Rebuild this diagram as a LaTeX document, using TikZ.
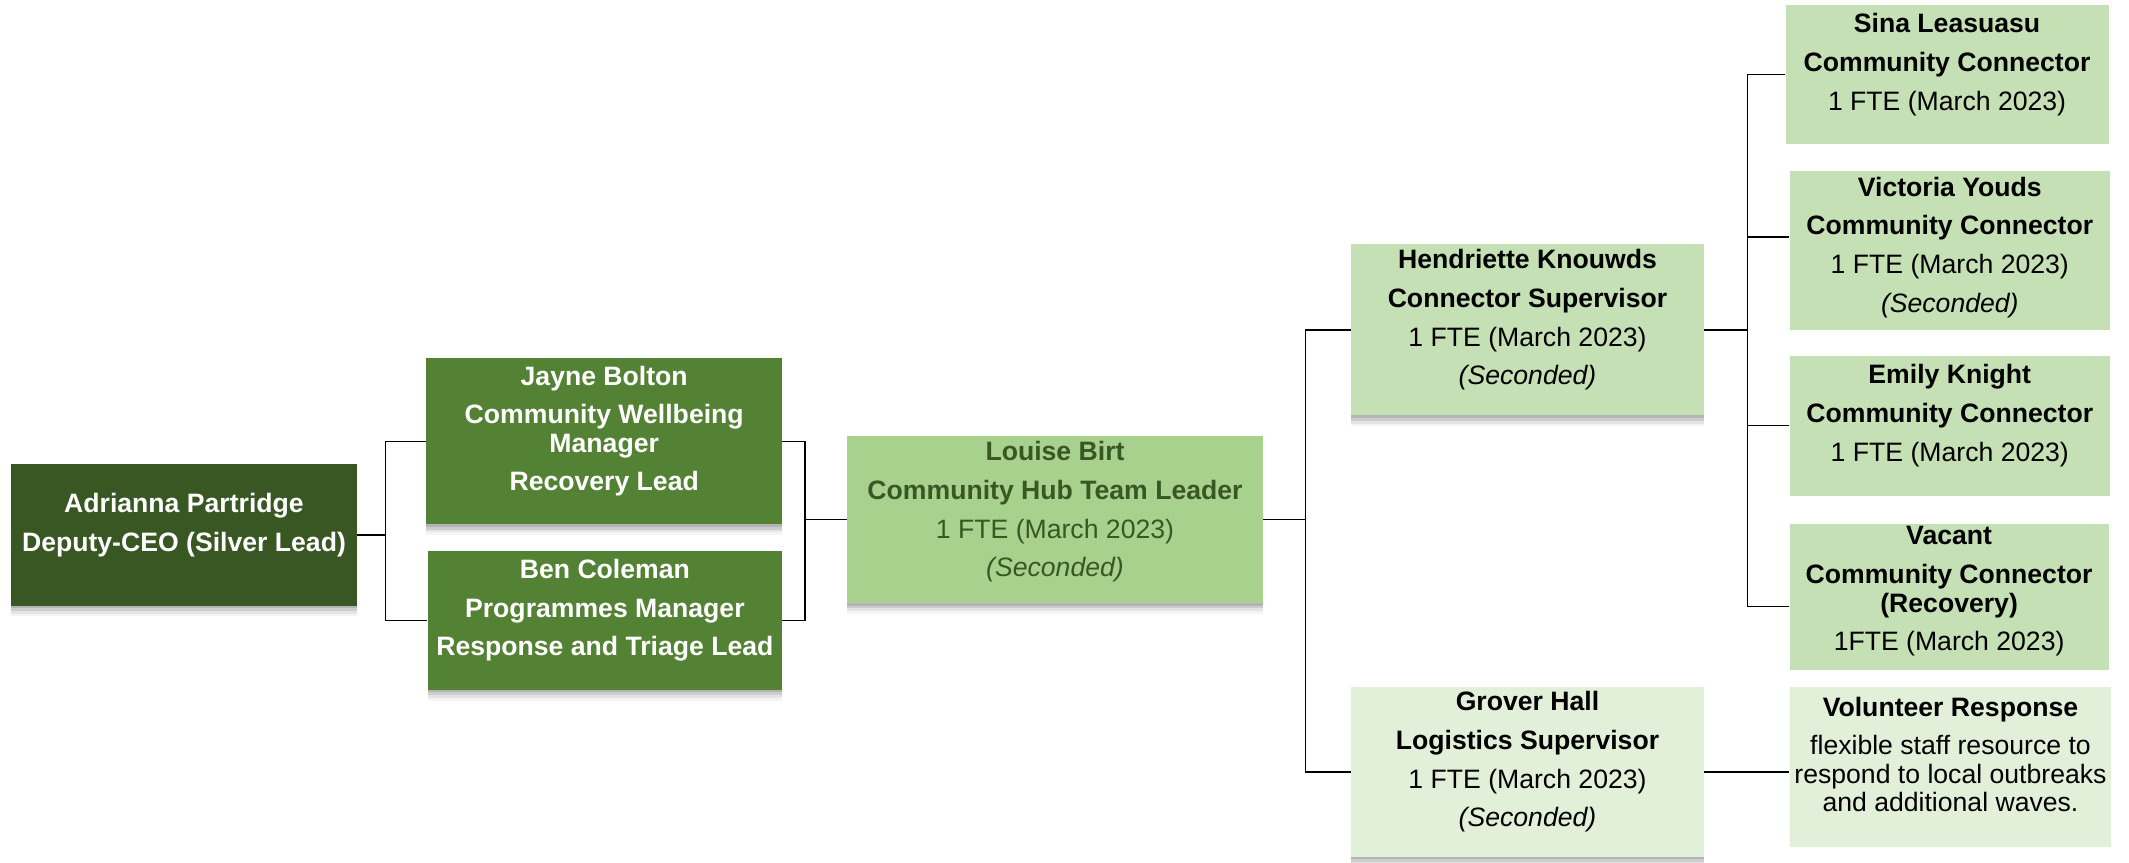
\documentclass[tikz,border=0pt]{standalone}
\usepackage{fontspec}
\setmainfont{Liberation Sans}
\usetikzlibrary{shadows,calc}
\definecolor{leaddark}{RGB}{56,87,35}
\definecolor{leadmid}{RGB}{84,130,53}
\definecolor{hublight}{RGB}{169,209,142}
\definecolor{teampale}{RGB}{197,224,180}
\definecolor{supportpale}{RGB}{226,240,217}

\begin{document}
\begin{tikzpicture}[x=1pt, y=-1pt,
	box/.style={rectangle, align=center, inner sep=2pt, font=\fontsize{19.6}{21}\selectfont, text depth=19pt},
	shade/.style={drop shadow={shadow xshift=0pt, shadow yshift=-2pt, opacity=.12, fill=black},
		drop shadow={shadow xshift=0pt, shadow yshift=-4pt, opacity=.1, fill=black},
		drop shadow={shadow xshift=0pt, shadow yshift=-6pt, opacity=.07, fill=black},
		drop shadow={shadow xshift=0pt, shadow yshift=-8pt, opacity=.04, fill=black}},
	link/.style={draw=black, line width=0.9pt}]
	\useasboundingbox (0,0) rectangle (1568,635);

	\node[box, shade, fill=leaddark, text=white, minimum width=255pt, minimum height=104pt] (adrianna) at (135.5,394)
	{\textbf{Adrianna Partridge}\\[7.5pt]\textbf{Deputy-CEO (Silver Lead)}};
	\node[box, shade, fill=leadmid, text=white, minimum width=262pt, minimum height=122pt] (jayne) at (445,325)
	{\textbf{Jayne Bolton}\\[7.5pt]\textbf{Community Wellbeing}\\\textbf{Manager}\\[7.5pt]\textbf{Recovery Lead}};
	\node[box, shade, fill=leadmid, text=white, minimum width=261pt, minimum height=102pt] (ben) at (445.5,457)
	{\textbf{Ben Coleman}\\[7.5pt]\textbf{Programmes Manager}\\[7.5pt]\textbf{Response and Triage Lead}};
	\node[box, shade, fill=hublight, text=leaddark, text depth=15pt, minimum width=306pt, minimum height=123pt] (louise) at (777,382.5)
	{\textbf{Louise Birt}\\[7.5pt]\textbf{Community Hub Team Leader}\\[7.5pt]1 FTE (March 2023)\\[7.5pt]\textit{(Seconded)}};
	\node[box, shade, fill=teampale, minimum width=260pt, minimum height=126pt] (hendriette) at (1125,243)
	{\textbf{Hendriette Knouwds}\\[7.5pt]\textbf{Connector Supervisor}\\[7.5pt]1 FTE (March 2023)\\[7.5pt]\textit{(Seconded)}};
	\node[box, shade, fill=supportpale, minimum width=260pt, minimum height=125pt] (grover) at (1125,568.5)
	{\textbf{Grover Hall}\\[7.5pt]\textbf{Logistics Supervisor}\\[7.5pt]1 FTE (March 2023)\\[7.5pt]\textit{(Seconded)}};

	\node[box, fill=teampale, minimum width=238pt, minimum height=102pt] (sina) at (1434,55)
	{\textbf{Sina Leasuasu}\\[7.5pt]\textbf{Community Connector}\\[7.5pt]1 FTE (March 2023)};
	\node[box, fill=teampale, text depth=9pt, minimum width=236pt, minimum height=117pt] (victoria) at (1436,184.5)
	{\textbf{Victoria Youds}\\[7.5pt]\textbf{Community Connector}\\[7.5pt]1 FTE (March 2023)\\[7.5pt]\textit{(Seconded)}};
	\node[box, fill=teampale, minimum width=236pt, minimum height=103pt] (emily) at (1436,313.5)
	{\textbf{Emily Knight}\\[7.5pt]\textbf{Community Connector}\\[7.5pt]1 FTE (March 2023)};
	\node[box, fill=teampale, text depth=12pt, minimum width=235pt, minimum height=107pt] (vacant) at (1435.5,439.5)
	{\textbf{Vacant}\\[7.5pt]\textbf{Community Connector}\\\textbf{(Recovery)}\\[7.5pt]1FTE (March 2023)};
	\node[box, fill=supportpale, minimum width=237pt, minimum height=118pt] (volunteer) at (1436.5,565)
	{\textbf{Volunteer Response}\\[7.5pt]flexible staff resource to\\respond to local outbreaks\\and additional waves.};

	% bus points between the levels
	\coordinate (busA) at ($(adrianna.east)+(21,0)$);
	\coordinate (busB) at ($(louise.west)+(-31,0)$);
	\coordinate (busC) at ($(louise.east)+(31,0)$);
	\coordinate (busD) at ($(hendriette.east)+(32,0)$);

	\draw[link] (adrianna.east) -- (busA);
	\draw[link] (jayne.west) -| (busA) |- (ben.west);
	\draw[link] (jayne.east) -| (busB) |- (ben.east);
	\draw[link] (busB) -- (louise.west);
	\draw[link] (louise.east) -- (busC);
	\draw[link] (hendriette.west) -| (busC) |- (grover.west);
	\draw[link] (hendriette.east) -- (busD);
	\draw[link] (sina.west) -| (busD) |- ($(vacant.west)+(0,7)$);
	\draw[link] (busD |- victoria.west) ++(0,-10) -- ($(victoria.west)+(0,-10)$);
	\draw[link] (busD |- emily.west) -- (emily.west);
	\draw[link] (grover.east) -- (grover.east -| volunteer.west);
\end{tikzpicture}
\end{document}
